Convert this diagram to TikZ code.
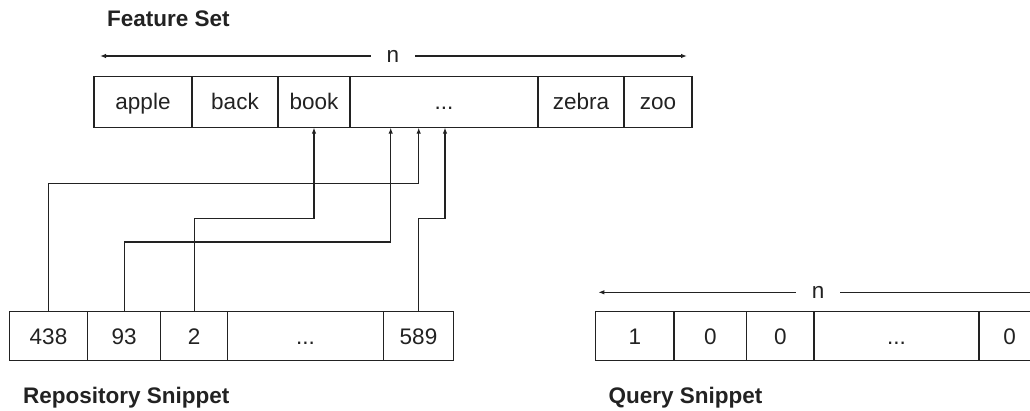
\documentclass[tikz,border=0pt]{standalone}
\usepackage{fontspec}
\setmainfont{Liberation Sans}
\usetikzlibrary{arrows.meta}
\definecolor{ink}{HTML}{222222}
\newcommand{\cellfont}{\fontsize{22.5}{25}\selectfont}
\newcommand{\headfont}{\fontsize{22.5}{25}\selectfont\bfseries}
\begin{document}
\begin{tikzpicture}[x=1pt,y=-1pt,
  cell/.style={draw=ink, line width=1.1pt, inner sep=0pt,
    text height=15.6pt, text depth=0pt, font=\cellfont, text=ink},
  toprow/.style={cell, minimum height=51pt},
  lowrow/.style={cell, minimum height=49pt},
  link/.style={draw=ink, line width=1.1pt, -{Latex[length=6pt,width=4.5pt]}},
  span/.style={font=\cellfont, text=ink, inner xsep=16pt, inner ysep=0pt},
  heading/.style={font=\headfont, text=ink, anchor=base west, inner sep=0pt}]
\useasboundingbox (0,0) rectangle (1030,410);
\clip (0,0) rectangle (1030,410);

% Feature set row
\node[heading] (fsTitle) at (107,26.7) {Feature Set};
\node[toprow, minimum width=98pt]  (apple) at (143,101.6) {apple};
\node[toprow, minimum width=86pt]  (back)  at (235,101.6) {back};
\node[toprow, minimum width=72pt]  (book)  at (314,101.6) {book};
\node[toprow, minimum width=188pt] (fdots) at (444,101.6) {...};
\node[toprow, minimum width=86pt]  (zebra) at (581,101.6) {zebra};
\node[toprow, minimum width=68pt]  (zoo)   at (658,101.6) {zoo};

% width marker above the feature set
\node[span] (nF) at (393,56) {n};
\coordinate (fL) at (100,56);
\coordinate (fR) at (687,56);
\draw[link] (nF.west) -- (fL);
\draw[link] (nF.east) -- (fR);

% Repository snippet row
\node[lowrow, minimum width=78.4pt]  (r438)  at (48.5,336.2)  {438};
\node[lowrow, minimum width=73pt]    (r93)   at (124.2,336.2) {93};
\node[lowrow, minimum width=67pt]    (r2)    at (194.2,336.2) {2};
\node[lowrow, minimum width=155.6pt] (rdots) at (305.5,336.2) {...};
\node[lowrow, minimum width=70.4pt]  (r589)  at (418.5,336.2) {589};
\node[heading] (rsTitle) at (23,403.3) {Repository Snippet};

% index links from snippet entries to features
\coordinate (k438) at (418.7,183.3);
\coordinate (k2)   at (314,218.7);
\coordinate (k93)  at (390.7,242);
\coordinate (k589) at (445,218.7);
\draw[link] (r438.north) |- (k438) -- (k438 |- fdots.south);
\draw[link] (r2.north) |- (k2) -- (book.south);
\draw[link] (r93.north) |- (k93) -- (k93 |- fdots.south);
\draw[link] (r589.north) |- (k589) -- (k589 |- fdots.south);

% Query snippet row
\node[span] (nQ) at (818,292.3) {n};
\coordinate (qL) at (598.3,292.3);
\coordinate (qR) at (1038,292.3);
\draw[link] (nQ.west) -- (qL);
\draw[link] (nQ.east) -- (qR);
\node[lowrow, minimum width=78.3pt] (q1)    at (634.85,336.2) {1};
\node[lowrow, minimum width=72.7pt] (q2)    at (710.35,336.2) {0};
\node[lowrow, minimum width=67.3pt] (q3)    at (780.35,336.2) {0};
\node[lowrow, minimum width=165pt]  (qdots) at (896.5,336.2)  {...};
\node[lowrow, minimum width=61pt]   (qn)    at (1009.5,336.2) {0};
\node[heading] (qsTitle) at (608.3,403.3) {Query Snippet};
\end{tikzpicture}
\end{document}
